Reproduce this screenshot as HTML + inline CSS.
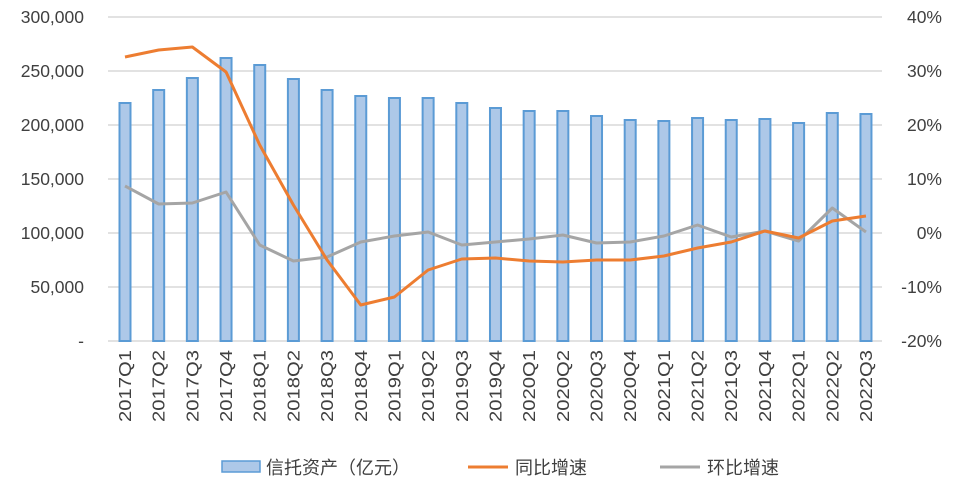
<!DOCTYPE html><html><head><meta charset="utf-8"><style>body{margin:0;background:#fff}svg{display:block}text{font-family:"Liberation Sans","Noto Sans CJK SC",sans-serif;fill:#404040}</style></head><body>
<svg id="c" width="957" height="485" xmlns="http://www.w3.org/2000/svg"></svg>
<script>
var s='';
var L=108,R=882;
for(var i=0;i<7;i++){var y=17+i*54;s+='<line x1="'+L+'" x2="'+R+'" y1="'+y+'" y2="'+y+'" stroke="#d9d9d9" stroke-width="1.5"/>';
var lv=['300,000','250,000','200,000','150,000','100,000','50,000','-'][i];
s+='<text x="84" y="'+(y+6)+'" text-anchor="end" font-size="17.5">'+lv+'</text>';
var rv=['40%','30%','20%','10%','0%','-10%','-20%'][i];
s+='<text x="942" y="'+(y+6)+'" text-anchor="end" font-size="17.5">'+rv+'</text>';}
var bt=[103,90,78,58,65,79,90,96,98,98,103,108,111,111,116,120,121,118,120,119,123,113,114];
var o=[57,50,47,72,145,205,260,305,297,270,259,258,261,262,260,260,256,248,242,231,238,221,216];
var g=[186,204,203,192,245,261,257,242,236,232,245,242,239,235,243,242,236,225,237,231,241,208,232];
var po='',pg='';
for(var i=0;i<23;i++){var x=125+i*33.68;
s+='<rect x="'+(x-5.5)+'" y="'+bt[i]+'" width="11" height="'+(341-bt[i])+'" fill="#adc8e8" stroke="#5b9bd5" stroke-width="2"/>';
po+=x+','+o[i]+' ';pg+=x+','+g[i]+' ';
var yr=2017+Math.floor(i/4),q=i%4+1;
s+='<text transform="translate('+(x+6)+',350) rotate(-90)" text-anchor="end" font-size="17.5" textLength="72" lengthAdjust="spacingAndGlyphs">'+yr+'Q'+q+'</text>';}
s+='<polyline points="'+pg+'" fill="none" stroke="#a5a5a5" stroke-width="3" stroke-linejoin="round"/>';
s+='<polyline points="'+po+'" fill="none" stroke="#ed7d31" stroke-width="3" stroke-linejoin="round"/>';
s+='<rect x="222" y="461" width="38" height="11" fill="#adc8e8" stroke="#5b9bd5" stroke-width="1.5"/>';
s+='<text x="266" y="474" font-size="18">信托资产（亿元）</text>';
s+='<line x1="468" x2="508" y1="467" y2="467" stroke="#ed7d31" stroke-width="3"/><text x="515" y="474" font-size="18">同比增速</text>';
s+='<line x1="660" x2="700" y1="467" y2="467" stroke="#a5a5a5" stroke-width="3"/><text x="707" y="474" font-size="18">环比增速</text>';
document.getElementById('c').innerHTML=s;
</script></body></html>
